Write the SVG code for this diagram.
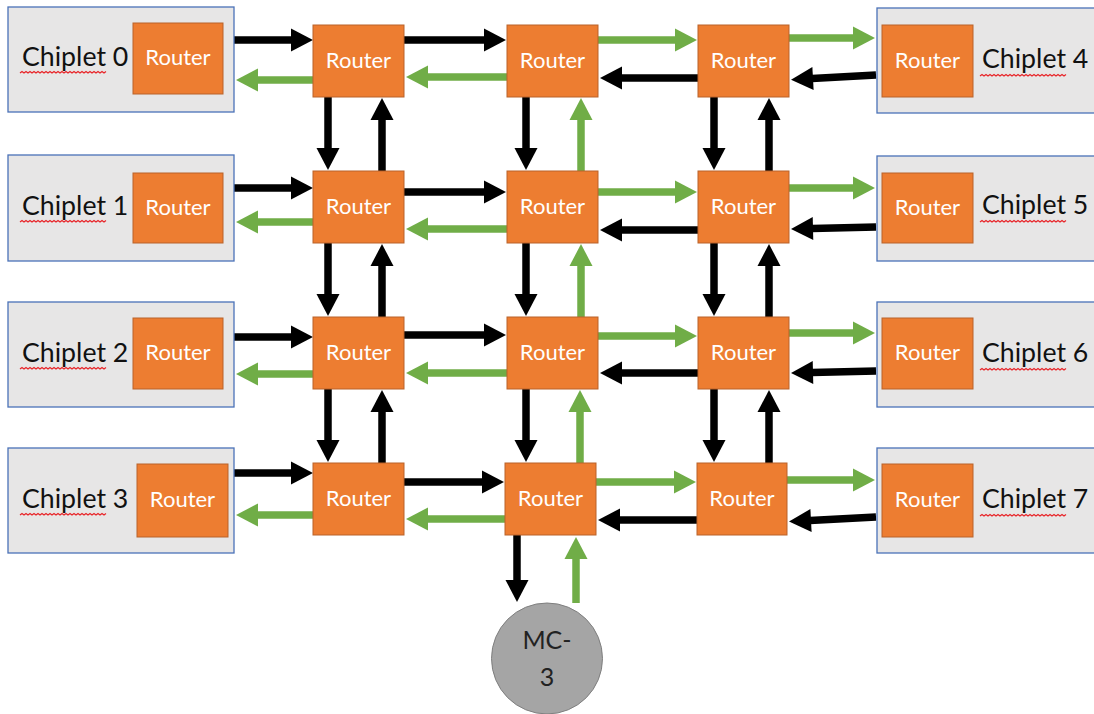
<svg xmlns="http://www.w3.org/2000/svg" width="1094" height="714" viewBox="0 0 1094 714">
  <style>
    .chip{fill:#e7e6e6;stroke:#4a72b8;stroke-width:1.3}
    .rt{fill:#ed7d31;stroke:#b9632a;stroke-width:1}
    .rtx{font-family:Lato,"Liberation Sans",sans-serif;font-size:22px;fill:#ffffff;text-anchor:middle}
    .ctx{font-family:Lato,"Liberation Sans",sans-serif;font-size:26.7px;fill:#111111}
    .mctx{font-family:Lato,"Liberation Sans",sans-serif;font-size:25px;fill:#222222;text-anchor:middle}
    .bk{stroke:#000000;stroke-width:7.5;fill:none;marker-end:url(#ab)}
    .gr{stroke:#70ad47;stroke-width:7.5;fill:none;marker-end:url(#ag)}
    .sq{fill:none;stroke:#e8262a;stroke-width:1.2}
  </style>
  <defs>
    <marker id="ab" markerUnits="userSpaceOnUse" markerWidth="22" markerHeight="23" refX="1" refY="11.5" orient="auto" overflow="visible">
      <path d="M0,0 L22,11.5 L0,23 Z" fill="#000000"/>
    </marker>
    <marker id="ag" markerUnits="userSpaceOnUse" markerWidth="22" markerHeight="23" refX="1" refY="11.5" orient="auto" overflow="visible">
      <path d="M0,0 L22,11.5 L0,23 Z" fill="#70ad47"/>
    </marker>
    <!-- spell-check wavy underline -->
    <path id="wave" class="sq" d="M0,0 l2,-1.5 l2,1.5 l2,-1.5 l2,1.5 l2,-1.5 l2,1.5 l2,-1.5 l2,1.5 l2,-1.5 l2,1.5 l2,-1.5 l2,1.5 l2,-1.5 l2,1.5 l2,-1.5 l2,1.5 l2,-1.5 l2,1.5 l2,-1.5 l2,1.5 l2,-1.5 l2,1.5 l2,-1.5 l2,1.5 l2,-1.5 l2,1.5 l2,-1.5 l2,1.5 l2,-1.5 l2,1.5 l2,-1.5 l2,1.5 l2,-1.5 l2,1.5 l2,-1.5 l2,1.5 l2,-1.5 l2,1.5 l2,-1.5 l2,1.5 l2,-1.5 l2,1.5 l2,-1.5"/>
  </defs>

  <!-- links between routers -->
  <g id="connectors">
    <!-- left chiplets <-> column 1 -->
    <path class="bk" d="M234,40 H292"/>
    <path class="bk" d="M234,188 H292"/>
    <path class="bk" d="M234,337 H292"/>
    <path class="bk" d="M234,473 H292"/>
    <path class="gr" d="M313,80 H257"/>
    <path class="gr" d="M313,222 H257"/>
    <path class="gr" d="M313,374 H257"/>
    <path class="gr" d="M313,515 H257"/>
    <!-- column 1 <-> column 2 -->
    <path class="bk" d="M404,40 H485"/>
    <path class="bk" d="M404,192 H485"/>
    <path class="bk" d="M404,335 H485"/>
    <path class="bk" d="M404,482 H483"/>
    <path class="gr" d="M507,77 H427"/>
    <path class="gr" d="M507,229 H427"/>
    <path class="gr" d="M507,373 H427"/>
    <path class="gr" d="M505,519 H427"/>
    <!-- column 2 <-> column 3 -->
    <path class="gr" d="M598,40 H676"/>
    <path class="gr" d="M598,192 H676"/>
    <path class="gr" d="M598,336 H676"/>
    <path class="gr" d="M596,482 H675"/>
    <path class="bk" d="M698,78 H621"/>
    <path class="bk" d="M698,230 H621"/>
    <path class="bk" d="M698,373 H621"/>
    <path class="bk" d="M697,520 H619"/>
    <!-- column 3 <-> right chiplets -->
    <path class="gr" d="M789,38 H854"/>
    <path class="gr" d="M789,188 H854"/>
    <path class="gr" d="M789,333 H854"/>
    <path class="gr" d="M787,480 H854"/>
    <path class="bk" d="M876,75 L812,78.5"/>
    <path class="bk" d="M876,227 L812,228.5"/>
    <path class="bk" d="M876,371 L812,372.5"/>
    <path class="bk" d="M876,517 L810,520.5"/>
    <!-- column 1 verticals -->
    <path class="bk" d="M328,97 V149"/>
    <path class="bk" d="M328,243 V295"/>
    <path class="bk" d="M328,389 V441"/>
    <path class="bk" d="M382,171 V119"/>
    <path class="bk" d="M382,317 V265"/>
    <path class="bk" d="M382,463 V411"/>
    <!-- column 2 verticals -->
    <path class="bk" d="M526,97 V149"/>
    <path class="bk" d="M526,243 V295"/>
    <path class="bk" d="M526,389 V441"/>
    <path class="gr" d="M581,171 V119"/>
    <path class="gr" d="M581,317 V265"/>
    <path class="gr" d="M580,463 V411"/>
    <!-- column 3 verticals -->
    <path class="bk" d="M714,97 V149"/>
    <path class="bk" d="M714,243 V295"/>
    <path class="bk" d="M714,389 V441"/>
    <path class="bk" d="M769,171 V119"/>
    <path class="bk" d="M769,317 V265"/>
    <path class="bk" d="M769,463 V411"/>
    <!-- memory controller link -->
    <path class="bk" d="M517,535 V581"/>
    <path class="gr" d="M576,603 V558"/>
  </g>

  <!-- left chiplets -->
  <g id="chiplet0">
    <rect class="chip" x="8" y="7" width="226" height="105"/>
    <text class="ctx" x="22" y="66">Chiplet 0</text>
    <use href="#wave" x="20" y="73"/>
    <rect class="rt" x="133" y="23" width="90" height="71"/>
    <text class="rtx" x="178" y="65">Router</text>
  </g>
  <g id="chiplet1">
    <rect class="chip" x="8" y="155" width="226" height="106"/>
    <text class="ctx" x="22" y="215">Chiplet 1</text>
    <use href="#wave" x="20" y="222"/>
    <rect class="rt" x="133" y="173" width="90" height="70"/>
    <text class="rtx" x="178" y="214.5">Router</text>
  </g>
  <g id="chiplet2">
    <rect class="chip" x="8" y="302" width="226" height="105"/>
    <text class="ctx" x="22" y="362">Chiplet 2</text>
    <use href="#wave" x="20" y="369"/>
    <rect class="rt" x="133" y="318" width="90" height="71"/>
    <text class="rtx" x="178" y="360">Router</text>
  </g>
  <g id="chiplet3">
    <rect class="chip" x="8" y="448" width="226" height="105"/>
    <text class="ctx" x="22" y="508">Chiplet 3</text>
    <use href="#wave" x="20" y="515"/>
    <rect class="rt" x="137" y="464" width="91" height="73"/>
    <text class="rtx" x="182.5" y="507">Router</text>
  </g>

  <!-- right chiplets -->
  <g id="chiplet4">
    <rect class="chip" x="877" y="8" width="230" height="105"/>
    <rect class="rt" x="882" y="25" width="91" height="72"/>
    <text class="rtx" x="927.5" y="67.5">Router</text>
    <text class="ctx" x="982" y="68">Chiplet 4</text>
    <use href="#wave" x="980" y="76"/>
  </g>
  <g id="chiplet5">
    <rect class="chip" x="877" y="156" width="230" height="105"/>
    <rect class="rt" x="882" y="173" width="91" height="70"/>
    <text class="rtx" x="927.5" y="214.5">Router</text>
    <text class="ctx" x="982" y="214">Chiplet 5</text>
    <use href="#wave" x="980" y="222"/>
  </g>
  <g id="chiplet6">
    <rect class="chip" x="877" y="302" width="230" height="105"/>
    <rect class="rt" x="882" y="318" width="91" height="71"/>
    <text class="rtx" x="927.5" y="360">Router</text>
    <text class="ctx" x="982" y="362">Chiplet 6</text>
    <use href="#wave" x="980" y="370"/>
  </g>
  <g id="chiplet7">
    <rect class="chip" x="877" y="448" width="230" height="105"/>
    <rect class="rt" x="882" y="464" width="91" height="73"/>
    <text class="rtx" x="927.5" y="507">Router</text>
    <text class="ctx" x="982" y="508">Chiplet 7</text>
    <use href="#wave" x="980" y="516"/>
  </g>

  <!-- mesh routers, row by row -->
  <g id="r00"><rect class="rt" x="313" y="25" width="91" height="72"/><text class="rtx" x="358.5" y="68">Router</text></g>
  <g id="r01"><rect class="rt" x="507" y="25" width="91" height="72"/><text class="rtx" x="552.5" y="68">Router</text></g>
  <g id="r02"><rect class="rt" x="698" y="25" width="91" height="72"/><text class="rtx" x="743.5" y="68">Router</text></g>

  <g id="r10"><rect class="rt" x="313" y="171" width="91" height="72"/><text class="rtx" x="358.5" y="214">Router</text></g>
  <g id="r11"><rect class="rt" x="507" y="171" width="91" height="72"/><text class="rtx" x="552.5" y="214">Router</text></g>
  <g id="r12"><rect class="rt" x="698" y="171" width="91" height="72"/><text class="rtx" x="743.5" y="214">Router</text></g>

  <g id="r20"><rect class="rt" x="313" y="317" width="91" height="72"/><text class="rtx" x="358.5" y="360">Router</text></g>
  <g id="r21"><rect class="rt" x="507" y="317" width="91" height="72"/><text class="rtx" x="552.5" y="360">Router</text></g>
  <g id="r22"><rect class="rt" x="698" y="317" width="91" height="72"/><text class="rtx" x="743.5" y="360">Router</text></g>

  <g id="r30"><rect class="rt" x="313" y="463" width="91" height="72"/><text class="rtx" x="358.5" y="506">Router</text></g>
  <g id="r31"><rect class="rt" x="505" y="463" width="91" height="72"/><text class="rtx" x="550.5" y="506">Router</text></g>
  <g id="r32"><rect class="rt" x="697" y="463" width="90" height="72"/><text class="rtx" x="742" y="506">Router</text></g>

  <!-- memory controller -->
  <g id="mc3">
    <circle cx="547" cy="658.5" r="55.5" fill="#a5a5a5" stroke="#7f7f7f" stroke-width="1"/>
    <text class="mctx" x="547" y="649">MC-</text>
    <text class="mctx" x="547" y="686">3</text>
  </g>
</svg>
